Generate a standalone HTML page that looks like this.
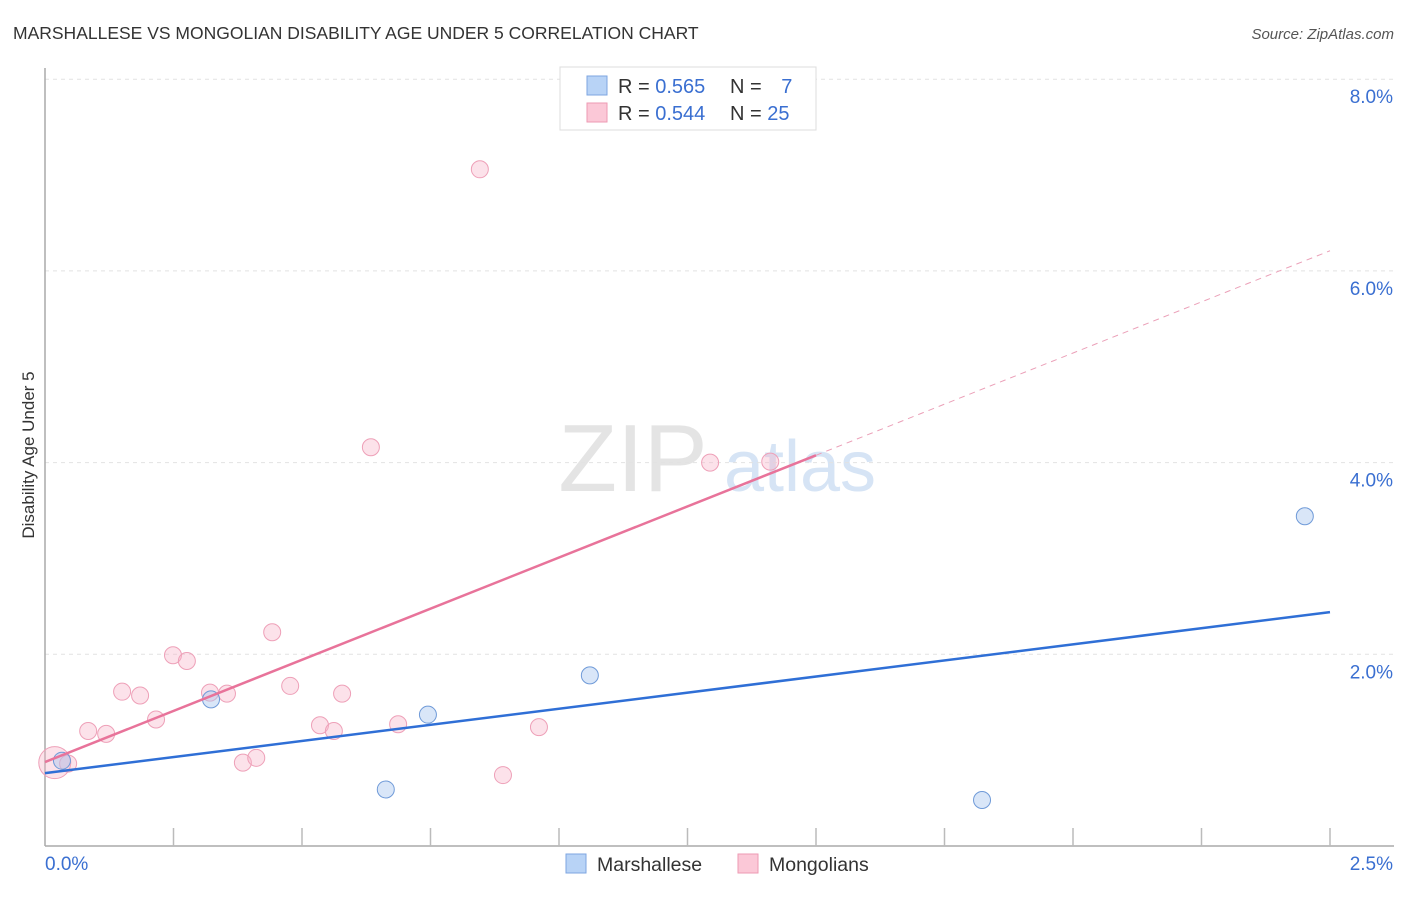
<!DOCTYPE html>
<html><head><meta charset="utf-8"><style>
body{margin:0;background:#fff;font-family:"Liberation Sans",sans-serif;}
svg text{font-family:"Liberation Sans",sans-serif;}
</style></head><body>
<svg id="c" width="1406" height="892" xmlns="http://www.w3.org/2000/svg">
<text x="13" y="39" font-size="17.5" fill="#333">MARSHALLESE VS MONGOLIAN DISABILITY AGE UNDER 5 CORRELATION CHART</text>
<text x="1394" y="39" font-size="15" fill="#555" font-style="italic" text-anchor="end">Source: ZipAtlas.com</text>
<text x="633" y="491" font-size="96" fill="#e4e4e4" font-family="Liberation Serif" text-anchor="middle">ZIP</text>
<text x="800" y="491" font-size="72" fill="#d6e4f5" text-anchor="middle">atlas</text>
<text transform="translate(34,455) rotate(-90)" font-size="17" fill="#333" text-anchor="middle">Disability Age Under 5</text>
<g id="grid"></g><g id="axes"></g><g id="marks"></g>
<g>
<rect x="560" y="67" width="256" height="63" fill="#fff" stroke="#ddd"/>
<rect x="587" y="76" width="20" height="19" fill="#b8d3f6" stroke="#7ea6e0"/>
<rect x="587" y="103" width="20" height="19" fill="#fbc8d7" stroke="#ee9ab3"/>
<text x="618" y="93" font-size="20" fill="#333">R = <tspan fill="#3a6fd1">0.565</tspan></text>
<text x="730" y="93" font-size="20" fill="#333">N = <tspan fill="#3a6fd1" dx="14">7</tspan></text>
<text x="618" y="120" font-size="20" fill="#333">R = <tspan fill="#3a6fd1">0.544</tspan></text>
<text x="730" y="120" font-size="20" fill="#333">N = <tspan fill="#3a6fd1">25</tspan></text>
</g>
<g>
<rect x="566" y="854" width="20" height="19" fill="#b8d3f6" stroke="#7ea6e0"/>
<text x="597" y="871" font-size="19.5" fill="#333">Marshallese</text>
<rect x="738" y="854" width="20" height="19" fill="#fbc8d7" stroke="#ee9ab3"/>
<text x="769" y="871" font-size="19.5" fill="#333">Mongolians</text>
</g>
</svg>
<script>
const yTicks=[2,4,6,8];
const yTickLabels=["2.0%","4.0%","6.0%","8.0%"];
const xTicks=[0,0.25,0.5,0.75,1,1.25,1.5,1.75,2,2.25,2.5];
const marshX=[0.033,0.323,0.663,0.745,1.06,1.823,2.451];
const marshY=[0.89,1.53,0.59,1.37,1.78,0.48,3.44];
const mongX=[0.019,0.045,0.084,0.119,0.150,0.185,0.216,0.249,0.276,0.321,0.354,0.385,0.411,0.442,0.477,0.535,0.562,0.578,0.634,0.687,0.846,0.891,0.961,1.294,1.411];
const mongY=[0.87,0.86,1.20,1.17,1.61,1.57,1.32,1.99,1.93,1.60,1.59,0.87,0.92,2.23,1.67,1.26,1.20,1.59,4.16,1.27,7.06,0.74,1.24,4.00,4.01];
const marshLine=[0.76,2.44];
const mongLine=[0.876,6.21];
const mongSolidEnd=1.5;
const X=v=>45+v*514, Y=v=>846-v*95.85;
const ns="http://www.w3.org/2000/svg";
function mk(p,t,a){const e=document.createElementNS(ns,t);for(const k in a)e.setAttribute(k,a[k]);document.getElementById(p).appendChild(e);return e;}
yTicks.forEach((t,i)=>{
 const l=mk('grid','line',{x1:45,x2:1394,y1:Y(t),y2:Y(t),stroke:'#e2e2e2','stroke-dasharray':'4,4'});
 
 
 const tx=mk('grid','text',{x:1393,y:Y(t)+24,'font-size':19,fill:'#3a6fd1','text-anchor':'end'});
 tx.textContent=yTickLabels[i];
 
 
});
mk('axes','line',{x1:45,x2:45,y1:68,y2:846,stroke:'#aaa','stroke-width':1.5});
mk('axes','line',{x1:45,x2:1394,y1:846,y2:846,stroke:'#aaa','stroke-width':1.5});
xTicks.forEach(t=>{if(t>0){const l=mk('axes','line',{x1:X(t),x2:X(t),y1:828,y2:846,stroke:'#bbb','stroke-width':1.5});
 
 }});
let a=mk('axes','text',{x:45,y:870,'font-size':19,fill:'#3a6fd1'});a.textContent='0.0%';


a=mk('axes','text',{x:1393,y:870,'font-size':19,fill:'#3a6fd1','text-anchor':'end'});a.textContent='2.5%';


mongX.forEach((x,i)=>{const c=mk('marks','circle',{cx:X(x),cy:Y(mongY[i]),r:i==0?16:8.5,fill:'rgba(248,180,200,0.38)',stroke:'#eea0b8','stroke-width':1});
 
 });
marshX.forEach((x,i)=>{const c=mk('marks','circle',{cx:X(x),cy:Y(marshY[i]),r:8.5,fill:'rgba(170,200,240,0.45)',stroke:'#6f9ad8','stroke-width':1});
 
 });
const mAt=x=>mongLine[0]+(mongLine[1]-mongLine[0])*x/2.5;
let l=mk('marks','line',{x1:X(0),y1:Y(marshLine[0]),x2:X(2.5),y2:Y(marshLine[1]),stroke:'#2f6fd6','stroke-width':2.5});


l=mk('marks','line',{x1:X(0),y1:Y(mAt(0)),x2:X(mongSolidEnd),y2:Y(mAt(mongSolidEnd)),stroke:'#e8739a','stroke-width':2.5});


l=mk('marks','line',{x1:X(mongSolidEnd),y1:Y(mAt(mongSolidEnd)),x2:X(2.5),y2:Y(mAt(2.5)),stroke:'#eba0b8','stroke-width':1,'stroke-dasharray':'6,5'});


</script>
</body></html>
